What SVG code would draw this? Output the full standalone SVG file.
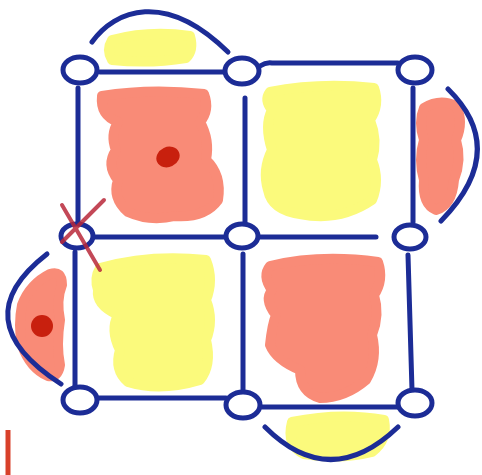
<svg xmlns="http://www.w3.org/2000/svg" width="482" height="475" viewBox="0 0 482 475">
<style>
.node{fill:#ffffff;stroke:#1c2c96;stroke-width:5}
.edge{fill:none;stroke:#1c2c96;stroke-width:5;stroke-linecap:round}
.arc{fill:none;stroke:#1c2c96;stroke-width:5;stroke-linecap:round}
.sal{fill:#f98b77;stroke:#f98b77;stroke-width:10;stroke-linejoin:round}
.yel{fill:#fbfa7c;stroke:#fbfa7c;stroke-width:10;stroke-linejoin:round}
.dot{fill:#c8200e}
</style>
<rect width="482" height="475" fill="#ffffff"/>
<g id="fills">
<path class="yel" d="M112,40 Q150,30 190,36 Q194,50 186,58 Q150,64 112,60 Q106,50 112,40 Z"/>
<path class="sal" d="M102,96 Q150,88 204,94 Q210,110 200,122 Q210,140 206,160 Q222,175 218,200 Q205,218 175,216 Q150,222 128,212 Q112,198 118,180 Q106,165 116,150 Q110,135 118,122 Q100,115 102,96 Z"/>
<path class="yel" d="M270,92 Q320,82 374,88 Q380,105 370,120 Q378,140 372,160 Q380,180 372,200 Q340,222 300,214 Q272,210 268,190 Q262,170 272,150 Q264,125 272,110 Q264,100 270,92 Z"/>
<path class="sal" d="M424,108 Q440,98 456,106 Q464,122 456,140 Q462,160 454,180 Q452,205 436,210 Q422,204 424,180 Q418,160 424,140 Q418,122 424,108 Z"/>
<path class="yel" d="M100,268 Q150,254 206,260 Q214,280 206,300 Q214,320 206,340 Q212,365 200,380 Q160,392 128,382 Q114,370 120,350 Q110,330 118,315 Q96,305 98,290 Q94,278 100,268 Z"/>
<path class="sal" d="M270,266 Q320,254 378,262 Q384,280 374,295 Q380,315 372,335 Q378,360 366,380 Q345,398 320,398 Q300,392 300,370 Q276,360 270,345 Q272,325 276,315 Q264,300 272,290 Q262,276 270,266 Z"/>
<path class="sal" d="M50,274 Q62,270 62,285 Q56,300 60,320 Q56,345 60,365 Q58,378 48,376 Q30,368 22,345 Q18,325 22,305 Q30,284 50,274 Z"/>
<path class="yel" d="M292,422 Q340,412 384,420 Q388,440 372,452 Q340,460 304,454 Q286,445 292,422 Z"/>
<ellipse class="dot" cx="168" cy="157" rx="12" ry="10" transform="rotate(-25 168 157)"/>
<ellipse class="dot" cx="42" cy="326" rx="11" ry="11"/>
</g>
<g id="connectors">
<path class="edge" d="M100,72 L224,72"/>
<path class="edge" d="M260,66 Q266,62 272,63 L398,63"/>
<path class="edge" d="M78,88 L78,222"/>
<path class="edge" d="M245,98 L245,224"/>
<path class="edge" d="M413,88 L413,222"/>
<path class="edge" d="M94,237 L226,237"/>
<path class="edge" d="M260,237 L376,237"/>
<path class="edge" d="M75,252 L75,388"/>
<path class="edge" d="M243,254 L243,390"/>
<path class="edge" d="M408,255 L412,390"/>
<path class="edge" d="M96,398 L226,398"/>
<path class="edge" d="M262,407 L398,407"/>
<path class="arc" d="M92,42 C115,10 165,-10 228,52"/>
<path class="arc" d="M448,89 Q510,150 441,221"/>
<path class="arc" d="M47,254 Q-38,320 61,384"/>
<path class="arc" d="M265,427 Q330,492 398,427"/>
</g>
<g id="n1"><ellipse class="node" cx="80" cy="70" rx="17" ry="13"/></g>
<g id="n2"><ellipse class="node" cx="242" cy="71" rx="17" ry="13"/></g>
<g id="n3"><ellipse class="node" cx="415" cy="70" rx="17" ry="13"/></g>
<g id="n4"><ellipse class="node" cx="77" cy="236" rx="16" ry="12"/></g>
<g id="n5"><ellipse class="node" cx="242" cy="236" rx="16" ry="12"/></g>
<g id="n6"><ellipse class="node" cx="410" cy="237" rx="16" ry="12"/></g>
<g id="n7"><ellipse class="node" cx="80" cy="400" rx="17" ry="13"/></g>
<g id="n8"><ellipse class="node" cx="243" cy="405" rx="17" ry="13"/></g>
<g id="n9"><ellipse class="node" cx="415" cy="403" rx="17" ry="13"/></g>
<g id="mark">
<path d="M62,205 L100,270 M104,200 L62,242" fill="none" stroke="#b8283a" stroke-width="4" stroke-linecap="round" opacity="0.85"/>
<path d="M8,430 L8,475" fill="none" stroke="#d8402a" stroke-width="5"/>
</g>
</svg>
